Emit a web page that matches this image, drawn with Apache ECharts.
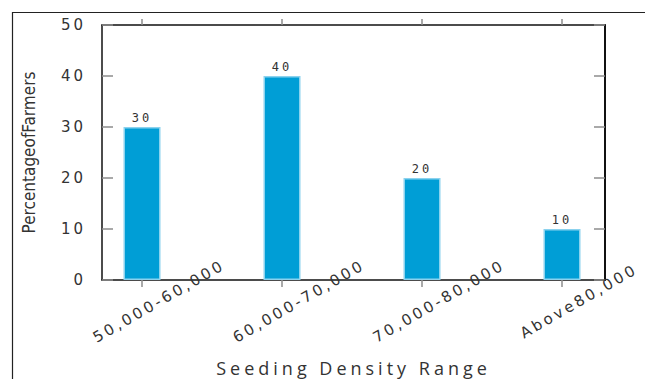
<!DOCTYPE html>
<html>
<head>
<meta charset="utf-8">
<script src="https://cdn.jsdelivr.net/npm/echarts@6/dist/echarts.min.js"></script>
<style>
  html, body { margin: 0; padding: 0; background: #fff; }
  #chart { width: 645px; height: 379px; }
  /* spaced-out lettering for the horizontal texts */
  #chart text[style*="DejaVu Sans"] { letter-spacing: 3px; }
  #chart text[style*="DejaVu Sans Mono"] { letter-spacing: 3px; }
  #chart text[style*="DejaVu Sans Condensed"] { letter-spacing: 0; }
  #chart text[style*="Open Sans"] { letter-spacing: 4px; }
</style>
</head>
<body>
<div id="chart"></div>
<script>
// Seeding density classes and share of farmers in each (%)
const categories = ['50,000-60,000', '60,000-70,000', '70,000-80,000', 'Above80,000'];
const percentages = [30, 40, 20, 10];
const yTicks = [0, 10, 20, 30, 40, 50];

const positions = categories.map((_, i) => i);
const barData = percentages.map((v, i) => [i, v]);

const chart = echarts.init(document.getElementById('chart'), null, { renderer: 'svg' });

const xMin = -40 / 140, xMax = 3 + 43 / 140;
const tickStyle = { color: '#8c8c8c', width: 1.5 };
const frameLine = { onZero: false, lineStyle: { color: '#111', width: 1.5 } };

chart.setOption({
  animation: false,
  backgroundColor: '#fff',
  grid: { left: 102, right: 40, top: 25, bottom: 99, containLabel: false, outerBoundsMode: 'none' },
  graphic: [{
    type: 'polyline',
    shape: { points: [[12.5, 379], [12.5, 12.5], [645, 12.5]] },
    style: { stroke: '#222', lineWidth: 1.2, fill: null },
    silent: true
  }],
  xAxis: [{
    type: 'value',
    position: 'bottom',
    min: xMin, max: xMax,
    name: 'Seeding Density Range',
    nameLocation: 'middle',
    nameGap: 88,
    nameMoveOverlap: false,
    nameTextStyle: { fontFamily: 'Open Sans', fontSize: 18, color: '#333', verticalAlign: 'middle' },
    axisLine: frameLine,
    axisTick: { show: true, inside: false, length: 7, customValues: positions, lineStyle: tickStyle },
    axisLabel: {
      customValues: positions,
      formatter: v => categories[Math.round(v)],
      rotate: 30,
      align: 'center',
      verticalAlign: 'middle',
      margin: 31,
      padding: [0, 0, 0, 39],
      fontFamily: 'DejaVu Sans',
      fontSize: 15,
      color: '#333'
    },
    splitLine: { show: false }
  }, {
    type: 'value',
    position: 'top',
    min: xMin, max: xMax,
    axisLine: frameLine,
    axisTick: { show: true, inside: false, length: 6, customValues: positions, lineStyle: tickStyle },
    axisLabel: { show: false },
    splitLine: { show: false }
  }],
  yAxis: [{
    type: 'value',
    position: 'left',
    min: yTicks[0], max: yTicks[yTicks.length - 1], interval: 10,
    name: 'PercentageofFarmers',
    nameLocation: 'middle',
    nameRotate: 90,
    nameGap: 73,
    nameMoveOverlap: false,
    nameTextStyle: { fontFamily: 'DejaVu Sans Condensed', fontSize: 17, color: '#333', verticalAlign: 'middle' },
    axisLine: { show: true, ...frameLine },
    axisTick: { show: true, inside: true, length: 11, lineStyle: tickStyle },
    axisLabel: {
      margin: 16,
      padding: [10, 0, 0, 0],
      fontFamily: 'DejaVu Sans',
      fontSize: 15,
      color: '#333'
    },
    splitLine: { show: false }
  }, {
    type: 'value',
    position: 'right',
    min: yTicks[0], max: yTicks[yTicks.length - 1], interval: 10,
    axisLine: { show: true, onZero: false, lineStyle: { color: '#111', width: 2 } },
    axisTick: { show: true, inside: true, length: 11, lineStyle: tickStyle },
    axisLabel: { show: false },
    splitLine: { show: false }
  }],
  series: [{
    type: 'bar',
    xAxisIndex: 0,
    yAxisIndex: 0,
    data: barData,
    barWidth: 37,
    itemStyle: { color: '#009ED6', borderColor: '#8BD2EE', borderWidth: 1.5 },
    label: {
      show: true,
      position: 'top',
      distance: 3,
      fontFamily: 'DejaVu Sans Mono',
      fontSize: 12,
      color: '#333'
    }
  }]
});
</script>
</body>
</html>
